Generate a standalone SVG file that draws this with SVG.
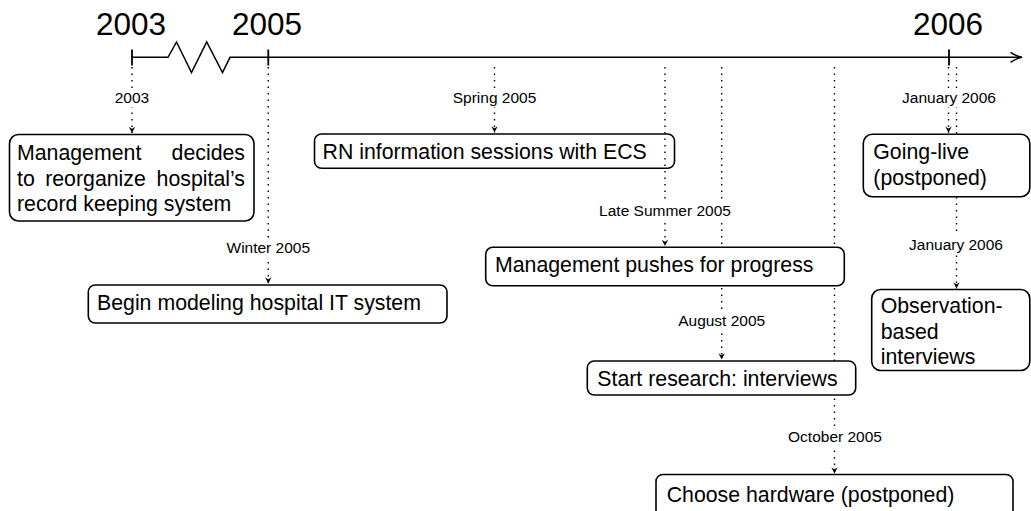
<svg xmlns="http://www.w3.org/2000/svg" width="1031" height="511" viewBox="0 0 1031 511">
  <style>
    text { font-family: "Liberation Sans", Arial, Helvetica, sans-serif; fill: #000; }
    .year { font-size: 31.5px; text-anchor: middle; }
    .date { font-size: 15.5px; text-anchor: middle; }
    .body { font-size: 21.3px; }
    .box { fill: #fff; stroke: #000; stroke-width: 1.6; }
    .open { fill: none; }
    .axis { fill: none; stroke: #000; stroke-width: 1.5; stroke-linejoin: miter; }
    .tick { stroke: #000; stroke-width: 1.8; }
    .dots { fill: none; stroke: #000; stroke-width: 1.4; stroke-dasharray: 1.4 5.1; }
    .pad { fill: #fff; }
  </style>
  <defs>
    <marker id="tip" markerUnits="userSpaceOnUse" markerWidth="10" markerHeight="10" viewBox="-5 -8 10 10" refX="0" refY="0" orient="auto-start-reverse" overflow="visible">
      <path d="M0,0 L-3.2,-6.2 Q0,-4 0,-4.2 Q0,-4 3.2,-6.2 Z" fill="#000" transform="rotate(-90)"/>
    </marker>
  </defs>

  <!-- time axis -->
  <g id="axis">
    <path class="axis" d="M132,57.3 H168 L176.5,42 L191.5,72.5 L206.7,42 L222.5,72.5 L230,57.3 H1020"/>
    <path class="axis" d="M1010.5,52.3 Q1016,56 1022,57.3 Q1016,58.6 1010.5,62.3"/>
    <line class="tick" x1="132" y1="49.5" x2="132" y2="65.5"/>
    <line class="tick" x1="268.3" y1="49.5" x2="268.3" y2="65.5"/>
    <line class="tick" x1="949" y1="49.5" x2="949" y2="65.5"/>
    <text class="year" x="131" y="35">2003</text>
    <text class="year" x="267" y="35">2005</text>
    <text class="year" x="948" y="35">2006</text>
  </g>

  <!-- event boxes drawn under the date lines -->
  <g id="node-rn">
    <rect class="box open" x="314.5" y="134" width="360" height="34.3" rx="7"/>
    <text class="body" x="322.5" y="159.3">RN information sessions with ECS</text>
  </g>

  <!-- dotted date lines -->
  <g id="connectors">
    <path class="dots" d="M132,67 V133" marker-end="url(#tip)"/>
    <path class="dots" d="M268.3,67 V283.5" marker-end="url(#tip)"/>
    <path class="dots" d="M494.5,67 V132.5" marker-end="url(#tip)"/>
    <path class="dots" d="M665,67 V246" marker-end="url(#tip)"/>
    <path class="dots" d="M721.7,67 V359.5" marker-end="url(#tip)"/>
    <path class="dots" d="M834.5,67 V473.5" marker-end="url(#tip)"/>
    <path class="dots" d="M948.5,67 V132.8" marker-end="url(#tip)"/>
    <path class="dots" d="M956.5,67 V288.5" marker-end="url(#tip)"/>

    <rect class="pad" x="110" y="88" width="44" height="19"/>
    <text class="date" x="132" y="103.3">2003</text>
    <rect class="pad" x="222" y="238" width="92" height="19"/>
    <text class="date" x="268.3" y="253.3">Winter 2005</text>
    <rect class="pad" x="448" y="88" width="93" height="19"/>
    <text class="date" x="494.5" y="103.3">Spring 2005</text>
    <rect class="pad" x="593" y="201" width="144" height="19"/>
    <text class="date" x="665" y="216.3">Late Summer 2005</text>
    <rect class="pad" x="674" y="310" width="96" height="19"/>
    <text class="date" x="721.7" y="325.7">August 2005</text>
    <rect class="pad" x="780" y="427" width="108" height="19"/>
    <text class="date" x="835" y="442.3">October 2005</text>
    <rect class="pad" x="898" y="88" width="102" height="19"/>
    <text class="date" x="949" y="103.3">January 2006</text>
    <rect class="pad" x="905" y="235" width="102" height="19"/>
    <text class="date" x="956" y="250.3">January 2006</text>
  </g>

  <g id="node-management-decides">
    <rect class="box" x="9.5" y="134.5" width="244.5" height="86.5" rx="9"/>
    <text class="body" x="17" y="160">Management</text>
    <text class="body" x="245" y="160" text-anchor="end">decides</text>
    <text class="body" x="17" y="185.5">to</text>
    <text class="body" x="45.2" y="185.5">reorganize</text>
    <text class="body" x="245" y="185.5" text-anchor="end">hospital’s</text>
    <text class="body" x="17" y="211">record keeping system</text>
  </g>

  <g id="node-begin-modeling">
    <rect class="box" x="88.3" y="285" width="358.7" height="38" rx="7"/>
    <text class="body" x="97" y="310">Begin modeling hospital IT system</text>
  </g>

  <g id="node-management-pushes">
    <rect class="box" x="485.7" y="247.3" width="358.6" height="38.5" rx="7"/>
    <text class="body" x="495" y="271.7">Management pushes for progress</text>
  </g>

  <g id="node-start-research">
    <rect class="box" x="587.3" y="361" width="268.4" height="34" rx="7"/>
    <text class="body" x="597.3" y="386">Start research: interviews</text>
  </g>

  <g id="node-choose-hardware">
    <rect class="box" x="656" y="474.5" width="357" height="48" rx="7"/>
    <text class="body" x="666.7" y="501.7">Choose hardware (postponed)</text>
  </g>

  <g id="node-going-live">
    <rect class="box" x="863.3" y="134.3" width="166.5" height="62.4" rx="9"/>
    <text class="body" x="873.3" y="159">Going-live</text>
    <text class="body" x="873.3" y="185">(postponed)</text>
  </g>

  <g id="node-observation">
    <rect class="box" x="871.7" y="289.5" width="158.1" height="81" rx="9"/>
    <text class="body" x="880.7" y="313">Observation-</text>
    <text class="body" x="880.7" y="338.5">based</text>
    <text class="body" x="880.7" y="364">interviews</text>
  </g>
</svg>
